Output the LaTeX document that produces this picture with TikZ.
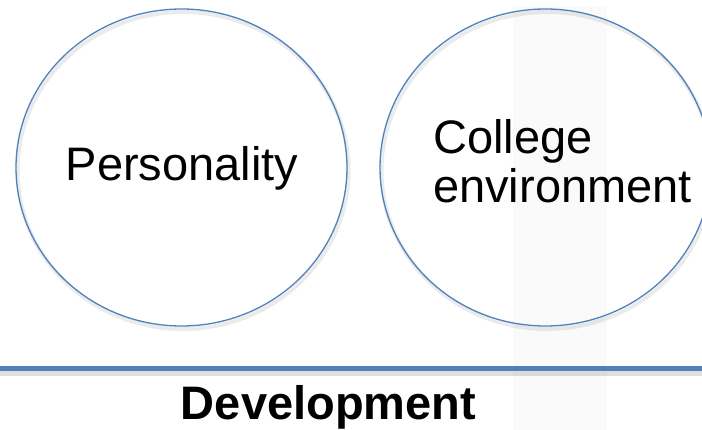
\documentclass[tikz,border=0pt]{standalone}
\usepackage{fontspec}
\setmainfont{Liberation Sans}
\usetikzlibrary{shapes.geometric}
\definecolor{officeblue}{RGB}{79,129,189}
\tikzset{
	bubble/.style={ellipse, draw=officeblue, line width=1.3pt,
		minimum width=331pt, minimum height=317pt, inner sep=0pt},
	bubbleshadow/.style={bubble, draw=black, opacity=0.08, line width=4pt},
	word/.style={inner sep=0pt, font=\fontsize{47}{49}\selectfont},
}

\begin{document}
\begin{tikzpicture}[x=1pt, y=-1pt]

	\useasboundingbox (0,0) rectangle (702,430);
	% faint band behind the right circle
	\fill[black!2] (513,7) rectangle (607,430);

	\node[bubbleshadow] (pshadow) at (183,170.5) {};
	\node[bubbleshadow] (cshadow) at (547,170.5) {};
	\node[bubble] (pers) at (181.5,167.5) {};
	\node[bubble] (coll) at (545.5,167.5) {};

	\node[word, anchor=base] (perstext) at (182,181) {Personality};
	\node[word, anchor=north west, align=left] (colltext) at (433,119)
		{College\\environment};

	\coordinate (baseL) at (0,369);
	\coordinate (baseR) at (702,369);
	\draw[black, opacity=0.12, line width=6pt] ([yshift=-4pt]baseL) -- ([yshift=-4pt]baseR);
	\draw[officeblue, line width=5pt] (baseL) -- (baseR);

	\node[word, anchor=base, font=\fontsize{47}{49}\selectfont\bfseries] (devtext)
		at (328.5,420) {Development};
\end{tikzpicture}
\end{document}
